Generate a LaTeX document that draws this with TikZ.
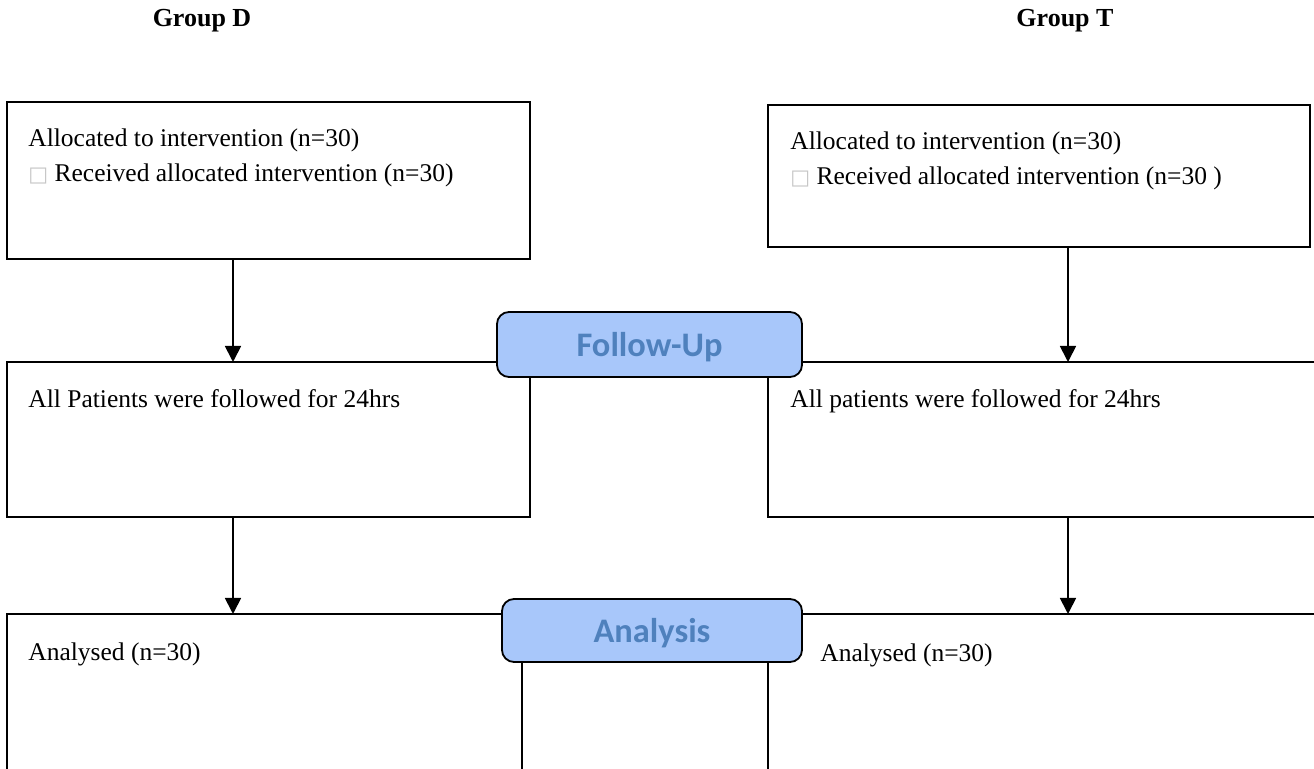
\documentclass[tikz,border=0pt]{standalone}
\usepackage{fontspec}
\setmainfont{Liberation Serif}
\newfontfamily\stagefont{Carlito}
\newfontfamily\symfont{DejaVu Sans}
\usepackage{xcolor}
\usepackage{tikz}
\usetikzlibrary{calc, arrows.meta, positioning}
\tikzset{
    boxnode/.style = {draw, rectangle, fill=none, inner sep = 0em, outer sep = 0em, line width=0.9pt, anchor=north west},
    textnode/.style  = {draw=none, fill=none, rectangle, inner sep = 0em, anchor=base west,
      font=\fontsize{12.75}{17.5}\selectfont},
    headnode/.style  = {textnode, anchor=base, font=\fontsize{13}{17.5}\selectfont\bfseries},
    stagenode/.style = {draw, rectangle, rounded corners=6pt, inner sep = 0em, outer sep = 0em, line width=0.9pt,
      anchor=north west, text depth=0pt, fill=stagefill, text=stagetext, font=\fontsize{17.2}{20}\selectfont\stagefont\bfseries},
    connect/.style = {black, line width=0.9pt, -{Triangle[width=8pt, length=8pt]}}
}
\definecolor{stagefill}{RGB}{168, 199, 250}
\definecolor{stagetext}{RGB}{79, 129, 189}
\newcommand{\missingbox}{{\symfont\color{gray!45}\fontsize{10.5}{11}\selectfont □}}

\begin{document}
\begin{tikzpicture}[x=0.5pt, y=-0.5pt]
\clip (0,0) rectangle (1314,769);

\node[headnode, name=headD] at (202,27) {Group D};
\node[headnode, name=headT] at (1065,27) {Group T};

% allocation
\node[boxnode, name=allocD, minimum width=261.5pt, minimum height=78.5pt] at (7,102) {};
\node[textnode, name=allocDa] at (28,147) {Allocated to intervention (n=30)};
\node[textnode, name=allocDb] at (28,182) {\missingbox\ Received allocated intervention (n=30)};

\node[boxnode, name=allocT, minimum width=271pt, minimum height=71pt] at (768,105) {};
\node[textnode, name=allocTa] at (790,150) {Allocated to intervention (n=30)};
\node[textnode, name=allocTb] at (790,185) {\missingbox\ Received allocated intervention (n=30 )};

% follow-up
\node[boxnode, name=followD, minimum width=261.5pt, minimum height=77.5pt] at (7,362) {};
\node[textnode, name=followDa] at (28,408) {All Patients were followed for 24hrs};

\node[boxnode, name=followT, minimum width=280pt, minimum height=77.5pt] at (768,362) {};
\node[textnode, name=followTa] at (790,408) {All patients were followed for 24hrs};

% analysis
\node[boxnode, name=analysisD, minimum width=257.5pt, minimum height=100pt] at (7,614) {};
\node[textnode, name=analysisDa] at (28,661) {Analysed (n=30)};

\node[boxnode, name=analysisT, minimum width=280pt, minimum height=100pt] at (768,614) {};
\node[textnode, name=analysisTa] at (820,662) {Analysed (n=30)};

\node[stagenode, name=followup, minimum width=152.5pt, minimum height=32.5pt] at (497,312) {Follow-Up};
\node[stagenode, name=analysis, minimum width=150pt, minimum height=31.5pt] at (502,599) {Analysis};

\coordinate (colD) at (233,0);
\coordinate (colT) at (1068,0);
\draw[connect] (colD |- allocD.south) -- (colD |- followD.north);
\draw[connect] (colT |- allocT.south) -- (colT |- followT.north);
\draw[connect] (colD |- followD.south) -- (colD |- analysisD.north);
\draw[connect] (colT |- followT.south) -- (colT |- analysisT.north);
\end{tikzpicture}
\end{document}
